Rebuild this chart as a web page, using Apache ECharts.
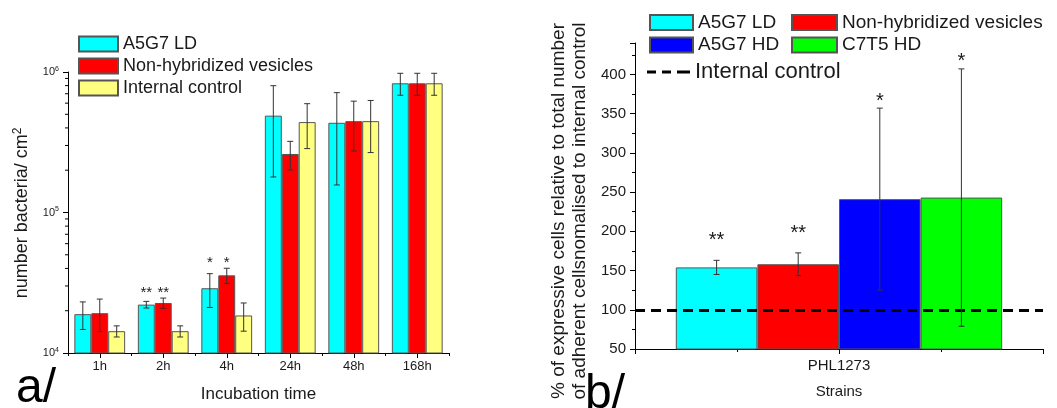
<!DOCTYPE html>
<html>
<head>
<meta charset="utf-8">
<script src="https://cdn.jsdelivr.net/npm/echarts@6/dist/echarts.min.js"></script>
<style>html,body{margin:0;padding:0;background:#fff;}#c{width:1057px;height:408px;}</style>
</head>
<body>
<div id="c"></div>
<script>
// ---- Panel a/ data ----
const categories = ['1h', '2h', '4h', '24h', '48h', '168h'];
const ldValues = [18900, 22100, 28900, 489000, 435000, 831000];
const ldErrors = [4200, 1200, 7800, 310000, 278000, 148000];
const nhValues = [19200, 22700, 35700, 261000, 447000, 831000];
const nhErrors = [5000, 1900, 4400, 60000, 173000, 148000];
const icValues = [14300, 14300, 18500, 440000, 447000, 831000];
const icErrors = [1300, 1300, 4200, 155000, 180000, 148000];
const ldStars = ['', '**', '*', '', '', ''];
const nhStars = ['', '**', '*', '', '', ''];
const icStars = ['', '', '', '', '', ''];
const logMinorTicks = [20000, 30000, 40000, 50000, 60000, 70000, 80000, 90000,
  200000, 300000, 400000, 500000, 600000, 700000, 800000, 900000];

// ---- Panel b/ data ----
const strains = ['PHL1273'];
const bNames = ['A5G7 LD', 'Non-hybridized vesicles', 'A5G7 HD', 'C7T5 HD'];
const bValues = [154, 158, 241, 243];
const bErrors = [9, 14.5, 116, 164];
const bStars = ['**', '**', '*', '*'];
const controlLevel = 100;

const COLORS = {
  'A5G7 LD': '#00FFFF',
  'Non-hybridized vesicles': '#FF0000',
  'Internal control': '#FFFF80',
  'A5G7 HD': '#0000FF',
  'C7T5 HD': '#00FF00'
};
const FONT = '"Liberation Sans", Arial, sans-serif';
const TXT = '#1a1a1a';

const aSeries = [
  {name: 'A5G7 LD', values: ldValues, errors: ldErrors, stars: ldStars},
  {name: 'Non-hybridized vesicles', values: nhValues, errors: nhErrors, stars: nhStars},
  {name: 'Internal control', values: icValues, errors: icErrors, stars: icStars}
];

function aErrorRender(k) {
  return function (params, api) {
    const i = api.value(0), v = api.value(1), e = api.value(2);
    const p0 = api.coord([i, v]);
    const band = api.coord([i + 1, v])[0] - p0[0];
    const bw = band * 0.8 / 3;
    const xc = p0[0] + (k - 1) * bw;
    const yT = api.coord([i, v + e])[1];
    const yB = api.coord([i, v - e])[1];
    const st = {stroke: '#333', lineWidth: 1};
    const children = [
      {type: 'line', shape: {x1: xc, y1: yT, x2: xc, y2: yB}, style: st},
      {type: 'line', shape: {x1: xc - 3, y1: yT, x2: xc + 3, y2: yT}, style: st},
      {type: 'line', shape: {x1: xc - 3, y1: yB, x2: xc + 3, y2: yB}, style: st}
    ];
    const star = aSeries[k].stars[i];
    if (star) {
      let top = Infinity;
      aSeries.forEach(s => {
        top = Math.min(top, api.coord([i, s.values[i] + s.errors[i]])[1]);
      });
      const fs = 15;
      children.push({type: 'text', style: {text: star, x: xc, y: top - 9 + 0.22 * fs,
        align: 'center', verticalAlign: 'middle', font: fs + 'px ' + FONT, fill: TXT}});
    }
    return {type: 'group', children: children};
  };
}

function bErrorRender(params, api) {
  const k = api.value(0), v = api.value(1), e = api.value(2);
  const left = api.coord([0, v])[0];
  const cs = params.coordSys;
  const bw = cs.width * 0.8 / bNames.length;
  const xc = left + (k - (bNames.length - 1) / 2) * bw;
  const yT = api.coord([0, v + e])[1];
  const yB = api.coord([0, v - e])[1];
  const st = {stroke: '#333', lineWidth: 1};
  const children = [
    {type: 'line', shape: {x1: xc, y1: yT, x2: xc, y2: yB}, style: st},
    {type: 'line', shape: {x1: xc - 3, y1: yT, x2: xc + 3, y2: yT}, style: st},
    {type: 'line', shape: {x1: xc - 3, y1: yB, x2: xc + 3, y2: yB}, style: st}
  ];
  const star = bStars[k];
  if (star) {
    const fs = 20;
    const c = yT - (star === '**' ? 24 : 11.5);
    children.push({type: 'text', style: {text: star, x: xc, y: c + 0.22 * fs,
      align: 'center', verticalAlign: 'middle', font: fs + 'px ' + FONT, fill: TXT}});
  }
  return {type: 'group', children: children};
}

const series = [];
aSeries.forEach((s) => {
  series.push({
    type: 'bar', name: s.name, xAxisIndex: 0, yAxisIndex: 0,
    data: s.values, barGap: '0%', barCategoryGap: '20%',
    itemStyle: {color: COLORS[s.name], borderColor: '#555', borderWidth: 1},
    emphasis: {disabled: true}
  });
});
aSeries.forEach((s, k) => {
  series.push({
    type: 'custom', name: s.name + ' err', xAxisIndex: 0, yAxisIndex: 0,
    data: s.values.map((v, i) => [i, v, s.errors[i]]),
    renderItem: aErrorRender(k), z: 5, silent: true, clip: false
  });
});
series.push({
  type: 'custom', name: 'minor ticks', xAxisIndex: 0, yAxisIndex: 0,
  data: logMinorTicks.map(v => [0, v]), silent: true, clip: false, z: 6,
  renderItem: function (params, api) {
    const v = api.value(1);
    const p = api.coord([0, v]);
    const band = api.coord([1, v])[0] - p[0];
    const xl = p[0] - band / 2;
    return {type: 'line', shape: {x1: xl - 3, y1: p[1], x2: xl, y2: p[1]}, style: {stroke: '#000', lineWidth: 1}};
  }
});
bNames.forEach((n, k) => {
  series.push({
    type: 'bar', name: n, xAxisIndex: 2, yAxisIndex: 1,
    data: [bValues[k]], barGap: '0%', barCategoryGap: '20%',
    itemStyle: {color: COLORS[n], borderColor: '#555', borderWidth: 1},
    emphasis: {disabled: true}
  });
});
series.push({
  type: 'custom', name: 'b err', xAxisIndex: 2, yAxisIndex: 1,
  data: bValues.map((v, k) => [k, v, bErrors[k]]),
  encode: {x: -1, y: 1},
  renderItem: bErrorRender, z: 5, silent: true, clip: false
});
series.push({
  type: 'line', name: 'Internal control line', xAxisIndex: 2, yAxisIndex: 1,
  data: [], symbol: 'none', silent: true,
  itemStyle: {color: '#000'},
  lineStyle: {color: '#000', width: 3, type: [8, 6]},
  markLine: {
    symbol: 'none', silent: true, label: {show: false},
    lineStyle: {color: '#000', width: 3, type: [10, 6]},
    data: [{yAxis: controlLevel}]
  }
});

const axisLine = {show: true, lineStyle: {color: '#000', width: 1}};

const option = {
  animation: false,
  textStyle: {fontFamily: FONT, color: TXT},
  grid: [
    {left: 68, top: 72, width: 381, height: 282},
    {left: 635, top: 43, width: 408, height: 306}
  ],
  legend: [
    {data: ['A5G7 LD', 'Non-hybridized vesicles', 'Internal control'], orient: 'vertical',
      left: 73, top: 30, itemWidth: 39, itemHeight: 15, itemGap: 4, icon: 'rect',
      textStyle: {fontSize: 18, color: TXT, fontFamily: FONT}, selectedMode: false},
    {data: ['A5G7 LD', 'A5G7 HD'], orient: 'vertical',
      left: 644, top: 8, itemWidth: 43, itemHeight: 15, itemGap: 3.5, icon: 'rect',
      textStyle: {fontSize: 19, color: TXT, fontFamily: FONT}, selectedMode: false},
    {data: ['Non-hybridized vesicles', 'C7T5 HD'], orient: 'vertical',
      left: 786, top: 8, itemWidth: 45, itemHeight: 15, itemGap: 3.5, icon: 'rect',
      textStyle: {fontSize: 19, color: TXT, fontFamily: FONT}, selectedMode: false},
    {data: [{name: 'Internal control line',
        icon: 'path://M0,0 h9 v3 h-9 z M15,0 h9 v3 h-9 z M30,0 h13 v3 h-13 z'}],
      orient: 'vertical', left: 642, top: 56, itemWidth: 43, itemHeight: 3,
      formatter: () => 'Internal control',
      itemStyle: {color: '#000', borderWidth: 0},
      textStyle: {fontSize: 22, color: TXT, fontFamily: FONT}, selectedMode: false}
  ],
  xAxis: [
    {type: 'category', gridIndex: 0, data: categories, axisLine: axisLine,
      axisTick: {show: true, alignWithLabel: true, length: 5, lineStyle: {color: '#000'}},
      axisLabel: {fontSize: 13, color: TXT, margin: 7},
      name: 'Incubation time', nameLocation: 'middle', nameGap: 33,
      nameTextStyle: {fontSize: 17, color: TXT}},
    {type: 'category', gridIndex: 0, data: categories, position: 'bottom',
      axisLine: {show: false}, axisLabel: {show: false},
      axisTick: {show: true, length: 3, lineStyle: {color: '#000'}}},
    {type: 'category', gridIndex: 1, data: strains, axisLine: axisLine,
      axisTick: {show: false},
      axisLabel: {fontSize: 15, color: TXT, margin: 9},
      name: 'Strains', nameLocation: 'middle', nameGap: 35,
      nameTextStyle: {fontSize: 15, color: TXT}},
    {type: 'value', gridIndex: 1, min: 0, max: 4, interval: 2, position: 'bottom',
      axisLine: {show: false}, axisLabel: {show: false}, splitLine: {show: false},
      axisTick: {show: true, length: 5, lineStyle: {color: '#000'}},
      minorTick: {show: true, splitNumber: 2, length: 3, lineStyle: {color: '#000'}}}
  ],
  yAxis: [
    {type: 'log', gridIndex: 0, logBase: 10, min: 10000, max: 1000000,
      axisLine: axisLine, splitLine: {show: false},
      axisTick: {show: true, length: 5, lineStyle: {color: '#000'}},
      axisLabel: {margin: 9, color: TXT,
        formatter: v => '{b|10}{s|' + Math.round(Math.log10(v)) + '}',
        rich: {b: {fontSize: 11, color: TXT, fontFamily: FONT},
               s: {fontSize: 7, color: TXT, fontFamily: FONT, verticalAlign: 'top', padding: [0, 0, 6, 0]}}}},
    {type: 'value', gridIndex: 1, min: 50, max: 440, interval: 50,
      axisLine: axisLine, splitLine: {show: false},
      axisTick: {show: true, length: 5, lineStyle: {color: '#000'}},
      minorTick: {show: true, splitNumber: 2, length: 3, lineStyle: {color: '#000'}},
      axisLabel: {fontSize: 15, color: TXT, margin: 9, showMaxLabel: false}}
  ],
  graphic: [
    {type: 'text', x: 22, y: 213, rotation: Math.PI / 2,
      style: {text: 'number bacteria/ cm{s|2}', font: '18px ' + FONT, fill: TXT,
        align: 'center', verticalAlign: 'middle',
        rich: {s: {fontSize: 12, fill: TXT, fontFamily: FONT, verticalAlign: 'top', padding: [0, 0, 8, 0]}}}},
    {type: 'text', x: 569, y: 211, rotation: Math.PI / 2,
      style: {text: '% of expressive cells relative to total number\nof adherent cellsnomalised to internal control',
        font: '19px ' + FONT, fill: TXT, align: 'center', verticalAlign: 'middle', lineHeight: 21}},
    {type: 'text', x: 16, y: 389,
      style: {text: 'a/', font: '48px ' + FONT, fill: '#000', verticalAlign: 'middle'}},
    {type: 'text', x: 585, y: 395,
      style: {text: 'b/', font: '48px ' + FONT, fill: '#000', verticalAlign: 'middle'}}
  ],
  series: series
};

const chart = echarts.init(document.getElementById('c'), null, {renderer: 'canvas'});
chart.setOption(option);
</script>
</body>
</html>
